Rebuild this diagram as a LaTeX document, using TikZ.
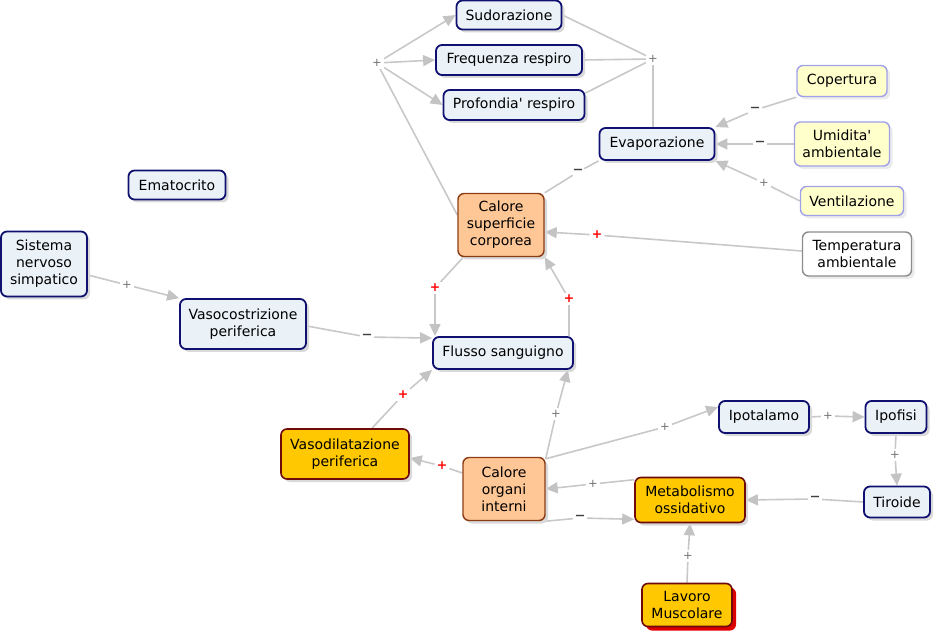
\documentclass[tikz,border=0pt]{standalone}
\usepackage{fontspec}
\setmainfont{DejaVu Sans}
\usetikzlibrary{arrows.meta,shadows,calc}
\definecolor{bfill}{RGB}{234,242,248}
\definecolor{bdraw}{RGB}{16,16,112}
\definecolor{yfill}{RGB}{255,255,204}
\definecolor{ydraw}{RGB}{160,160,235}
\definecolor{ofill}{RGB}{255,198,150}
\definecolor{odraw}{RGB}{140,60,20}
\definecolor{gfill}{RGB}{255,200,0}
\definecolor{gdraw}{RGB}{110,10,10}
\definecolor{tdraw}{RGB}{140,140,140}
\definecolor{lcol}{RGB}{200,200,200}
\definecolor{acol}{RGB}{195,195,195}
\definecolor{rshadow}{RGB}{220,0,0}
\pgfdeclarelayer{bg}
\pgfsetlayers{bg,main}
\begin{document}
\begin{tikzpicture}[x=1pt,y=-1pt,
  every node/.style={font=\fontsize{14}{17}\selectfont, align=center, inner sep=2pt},
  base/.style={rounded corners=6pt},
  bnode/.style={base, draw=bdraw, fill=bfill, line width=1.8pt,
     drop shadow={shadow xshift=3pt,shadow yshift=-3pt,fill=black!15,opacity=1}},
  ynode/.style={base, draw=ydraw, fill=yfill, line width=1.4pt,
     drop shadow={shadow xshift=3pt,shadow yshift=-3pt,fill=black!8,opacity=1}},
  tnode/.style={base, draw=tdraw, fill=white, line width=1.4pt,
     drop shadow={shadow xshift=3pt,shadow yshift=-3pt,fill=black!8,opacity=1}},
  onode/.style={base, draw=odraw, fill=ofill, line width=1.4pt,
     drop shadow={shadow xshift=3pt,shadow yshift=-3pt,fill=black!15,opacity=1}},
  gnode/.style={base, draw=gdraw, fill=gfill, line width=1.6pt,
     drop shadow={shadow xshift=3pt,shadow yshift=-3pt,fill=black!15,opacity=1}},
  lnode/.style={base, draw=gdraw, fill=gfill, line width=1.6pt,
     drop shadow={shadow xshift=4pt,shadow yshift=-4pt,fill=rshadow,opacity=1}},
  conn/.style={draw=lcol, line width=1.6pt},
  arr/.style={conn, -{Triangle[length=12pt,width=11pt,color=acol]}},
  pl/.style={fill=white, inner sep=2pt, text=black!55, font=\fontsize{11.5}{12}\selectfont},
  mi/.style={fill=white, inner xsep=2pt, inner ysep=0pt, text=black!75, font=\fontsize{20}{20}\selectfont},
  rp/.style={fill=white, inner sep=2pt, text=red, font=\fontsize{12.5}{12}\selectfont\bfseries},
]
\useasboundingbox (0,0) rectangle (935,636);

% concepts
\node[bnode, minimum width=105pt, minimum height=29pt] (sud) at (509,15) {Sudorazione};
\node[bnode, minimum width=146pt, minimum height=30pt] (freq) at (509,60) {Frequenza respiro};
\node[bnode, minimum width=141pt, minimum height=30pt] (prof) at (514,105) {Profondia\textquotesingle\ respiro};
\node[bnode, minimum width=115pt, minimum height=32pt] (evap) at (657,144) {Evaporazione};
\node[ynode, minimum width=90pt, minimum height=31pt] (cop) at (842,81) {Copertura};
\node[ynode, minimum width=95pt, minimum height=44pt] (umi) at (842,144) {Umidita\textquotesingle\\ambientale};
\node[ynode, minimum width=103pt, minimum height=29pt] (ven) at (852,201) {Ventilazione};
\node[tnode, minimum width=109pt, minimum height=44pt] (temp) at (857,254) {Temperatura\\ambientale};
\node[onode, minimum width=86pt, minimum height=63pt] (calsup) at (501,225) {Calore\\superficie\\corporea};
\node[bnode, minimum width=97pt, minimum height=29pt] (emat) at (177,185) {Ematocrito};
\node[bnode, minimum width=86pt, minimum height=65pt] (sns) at (44,264) {Sistema\\nervoso\\simpatico};
\node[bnode, minimum width=126pt, minimum height=50pt] (vaso) at (243,324) {Vasocostrizione\\periferica};
\node[bnode, minimum width=140pt, minimum height=32pt] (flusso) at (503,353) {Flusso sanguigno};
\node[gnode, minimum width=128pt, minimum height=50pt] (vasod) at (345,454) {Vasodilatazione\\periferica};
\node[onode, minimum width=82pt, minimum height=63pt] (calorg) at (504,489) {Calore\\organi\\interni};
\node[bnode, minimum width=90pt, minimum height=32pt] (ipo) at (764,417) {Ipotalamo};
\node[bnode, minimum width=61pt, minimum height=32pt] (ipf) at (896,417) {Ipofisi};
\node[bnode, minimum width=66pt, minimum height=31pt] (tir) at (897,502) {Tiroide};
\node[gnode, minimum width=110pt, minimum height=45pt] (met) at (690,500) {Metabolismo\\ossidativo};
\node[lnode, minimum width=90pt, minimum height=43pt] (lav) at (687,605) {Lavoro\\Muscolare};

% linking phrases
\node[pl] (jl) at (377,63) {+};
\node[pl] (jr) at (653,59) {+};
\node[mi] (le) at (578,172) {–};
\node[mi] (lc) at (755,110) {–};
\node[mi] (lu) at (760,144) {–};
\node[pl] (lv) at (764,183) {+};
\node[rp] (lt) at (597,235) {+};
\node[rp] (l8) at (435,288) {+};
\node[rp] (l9) at (569,299) {+};
\node[mi] (lvc) at (367,337) {–};
\node[pl] (lsn) at (127,285) {+};
\node[rp] (lvd) at (403,395) {+};
\node[rp] (lco) at (442,466) {+};
\node[pl] (lcf) at (556,414) {+};
\node[pl] (lip) at (665,427) {+};
\node[pl] (lipo) at (828,416) {+};
\node[pl] (lipf) at (895,455) {+};
\node[mi] (ltir) at (815,499) {–};
\node[pl] (lmet) at (593,484) {+};
\node[mi] (lcm) at (580,518) {–};
\node[pl] (llav) at (688,556) {+};

\begin{pgfonlayer}{bg}
\draw[conn] ([yshift=10pt]calsup.west) -- (jl);
\draw[arr] (jl) -- (sud.west);
\draw[arr] (jl) -- (freq.west);
\draw[arr] (jl) -- (prof.west);
\draw[conn] (sud.east) -- (jr);
\draw[conn] (freq.east) -- (jr);
\draw[conn] ([yshift=-4pt]prof.north east) -- (jr);
\draw[conn] (jr) -- (jr |- evap.north);
\draw[conn] (evap.south west) -- (le);
\draw[conn] (le) -- (calsup.north east);
\draw[conn] (cop.south west) -- (lc);
\draw[arr] (lc) -- (evap.north east);
\draw[conn] (umi.west) -- (lu);
\draw[arr] (lu) -- (evap.east);
\draw[conn] (ven.west) -- (lv);
\draw[arr] (lv) -- (evap.south east);
\draw[conn] ([yshift=3pt]temp.west) -- (lt);
\draw[arr] (lt) -- ([yshift=-7pt]calsup.east);
\draw[conn] ([xshift=6pt]calsup.south west) -- (l8);
\draw[arr] (l8) -- (l8 |- flusso.north);
\draw[conn] (l9 |- flusso.north) -- (l9);
\draw[arr] (l9) -- (calsup.south east);
\draw[conn] ([yshift=-2pt]vaso.east) -- (lvc);
\draw[arr] (lvc) -- ([yshift=-2pt]flusso.north west);
\draw[conn] ([yshift=-11pt]sns.east) -- (lsn);
\draw[arr] (lsn) -- (vaso.north west);
\draw[conn] ([xshift=27pt]vasod.north) -- (lvd);
\draw[arr] (lvd) -- (flusso.south west);
\draw[conn] ([yshift=16pt]calorg.west) -- (lco);
\draw[arr] (lco) -- ([yshift=-4pt]vasod.east);
\draw[conn] ([yshift=-2pt]calorg.north east) -- (lcf);
\draw[arr] (lcf) -- ([xshift=-6pt]flusso.south east);
\draw[conn] ([yshift=-2pt]calorg.north east) -- (lip);
\draw[arr] (lip) -- ([yshift=10pt]ipo.west);
\draw[conn] (ipo.east) -- (lipo);
\draw[arr] (lipo) -- (ipf.west);
\draw[conn] (ipf.south) -- (lipf);
\draw[arr] (lipf) -- (tir.north);
\draw[conn] (tir.west) -- (ltir);
\draw[arr] (ltir) -- (met.east);
\draw[conn] ([yshift=-3pt]met.north west) -- (lmet);
\draw[arr] (lmet) -- (calorg.east);
\draw[conn] (calorg.south east) -- (lcm);
\draw[arr] (lcm) -- ([yshift=4pt]met.south west);
\draw[conn] (lav.north) -- (llav);
\draw[arr] (llav) -- (met.south);
\end{pgfonlayer}
\end{tikzpicture}
\end{document}
